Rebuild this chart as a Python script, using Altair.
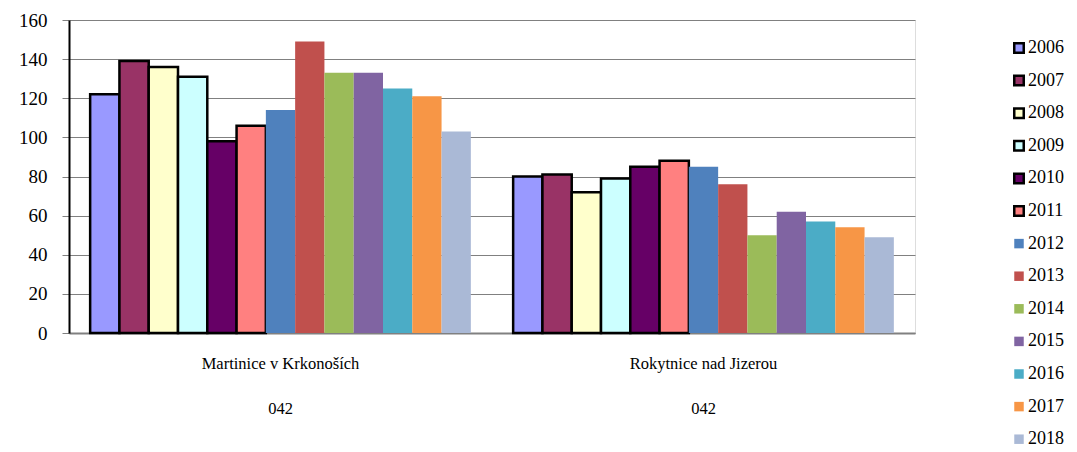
import altair as alt
import pandas as pd

places = ["Martinice v Krkonoších", "Rokytnice nad Jizerou"]
codes = ["042", "042"]
years = ["2006", "2007", "2008", "2009", "2010", "2011", "2012",
         "2013", "2014", "2015", "2016", "2017", "2018"]
martinice = [122, 139, 136, 131, 98, 106, 114, 149, 133, 133, 125, 121, 103]
rokytnice = [80, 81, 72, 79, 85, 88, 85, 76, 50, 62, 57, 54, 49]
colors = ["#9999FF", "#993366", "#FFFFCC", "#CCFFFF", "#660066", "#FF8080",
          "#4F81BD", "#C0504D", "#9BBB59", "#8064A2", "#4BACC6", "#F79646",
          "#AAB9D6"]
outline = ["black"] * 6 + ["transparent"] * 7

rows = []
for place, code, vals in zip(places, codes, [martinice, rokytnice]):
    for y, v in zip(years, vals):
        rows.append({"place": place + "|" + code, "year": y, "value": v})
df = pd.DataFrame(rows)

FONT = "Liberation Serif"

legend_opts = dict(title=None, orient="none", legendX=941, legendY=19,
                   symbolType="square", symbolSize=90,
                   symbolStrokeWidth=2.5, labelFont=FONT,
                   labelFontSize=18, labelColor="black",
                   rowPadding=12.6, labelOffset=0, padding=0)

chart = alt.Chart(df).mark_bar(strokeWidth=2.5, strokeJoin="miter").encode(
    x=alt.X("place:N", sort=None, title=None,
            scale=alt.Scale(paddingInner=0.1, paddingOuter=0.05),
            axis=alt.Axis(labelExpr="split(datum.label, '|')", labelAngle=0,
                          ticks=False, labelPadding=22, labelLineHeight=45,
                          labelFont=FONT, labelFontSize=16.5, labelColor="black",
                          domainColor="#808080", domainWidth=2)),
    xOffset=alt.XOffset("year:N", sort=years, scale=alt.Scale(paddingInner=0, paddingOuter=0)),
    y=alt.Y("value:Q", title=None,
            scale=alt.Scale(domain=[0, 160], nice=False),
            axis=alt.Axis(values=list(range(0, 161, 20)), tickSize=7,
                          tickColor="#808080", labelPadding=15,
                          labelFont=FONT, labelFontSize=19, labelColor="black",
                          gridColor="#808080", gridWidth=1.2,
                          domainColor="black", domainWidth=2)),
    fill=alt.Fill("year:N", sort=years,
                  scale=alt.Scale(domain=years, range=colors),
                  legend=alt.Legend(**legend_opts)),
    stroke=alt.Stroke("year:N", sort=years,
                      scale=alt.Scale(domain=years, range=outline),
                      legend=alt.Legend(**legend_opts)),
).properties(
    width=846, height=313,
    autosize=alt.AutoSizeParams(type="none"),
    padding={"left": 61, "top": 12, "right": 154, "bottom": 116},
).configure_view(
    fill="#C0C0C0", stroke="#808080", strokeWidth=2
).configure(background="white", font=FONT)

chart.save("out.html", embed_options={"renderer": "svg", "actions": False})
